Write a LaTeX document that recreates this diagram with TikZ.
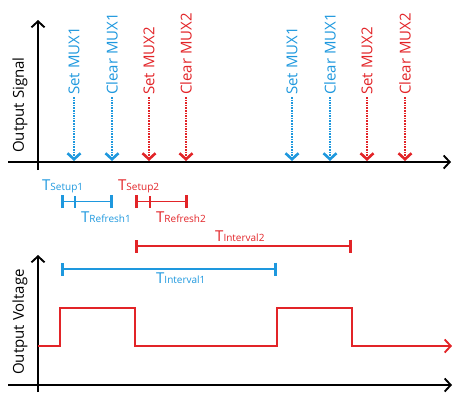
\documentclass[tikz,border=0pt]{standalone}
\usepackage{fontspec}
\setmainfont{Open Sans}
\usetikzlibrary{arrows.meta}

\definecolor{muxblue}{RGB}{30,152,222}
\definecolor{muxred}{RGB}{226,36,40}

\newcommand{\tname}[1]{{\fontsize{15}{15}\selectfont T}{\fontsize{10}{10}\selectfont #1}}

\tikzset{
  axis/.style={line width=1.3pt,-{Straight Barb[length=6pt,width=13pt,line width=1.9pt]}},
  sig/.style={rotate=90,anchor=west,inner sep=2pt,font=\fontsize{15}{15}\selectfont},
  sigarrow/.style={line width=1.2pt,dash pattern=on 1.6pt off 1pt,-{Straight Barb[length=6pt,width=13pt,line width=2.6pt]},shorten >=1pt},
  span/.style={line width=1.5pt,{Bar[width=13pt,line width=3pt]}-{Bar[width=13pt,line width=3pt]}},
  midtick/.style={line width=2.2pt},
  tlab/.style={anchor=base west,inner sep=0pt}
}

\begin{document}
\begin{tikzpicture}[x=1pt,y=-1pt]
        \useasboundingbox (0,0) rectangle (455,392);
        % output signal axes
        \coordinate (so) at (38,162);
        \draw[axis] (38,170) -- (38,20);
        \draw[axis] (8,162) -- (451,162);
        \node[rotate=90,font=\fontsize{15}{15}\selectfont] (sigax) at (20,105) {Output Signal};
        % mux commands
        \foreach \x/\txt/\col/\nm in {74/Set MUX1/muxblue/a,112/Clear MUX1/muxblue/b,149/Set MUX2/muxred/c,186/Clear MUX2/muxred/d,
                                      292/Set MUX1/muxblue/e,330/Clear MUX1/muxblue/f,367/Set MUX2/muxred/g,405/Clear MUX2/muxred/h} {
            \node[sig,text=\col] (cmd\nm) at (\x,97) {\txt};
            \draw[sigarrow,draw=\col] (cmd\nm.west) -- (cmd\nm.west |- so);
        }
        % setup / refresh times
        \coordinate (su1a) at (61,201.5);
        \coordinate (su1m) at (75,201.5);
        \coordinate (su1b) at (113,201.5);
        \draw[span,muxblue] (su1a) -- (su1b);
        \draw[midtick,muxblue] ([yshift=-6pt]su1m) -- ([yshift=6pt]su1m);
        \node[tlab,text=muxblue] (tsu1) at (42,190) {\tname{Setup1}};
        \node[tlab,text=muxblue] (trf1) at (81,222) {\tname{Refresh1}};
        \coordinate (su2a) at (135,201.5);
        \coordinate (su2m) at (150,201.5);
        \coordinate (su2b) at (188,201.5);
        \draw[span,muxred] (su2a) -- (su2b);
        \draw[midtick,muxred] ([yshift=-6pt]su2m) -- ([yshift=6pt]su2m);
        \node[tlab,text=muxred] (tsu2) at (118,190) {\tname{Setup2}};
        \node[tlab,text=muxred] (trf2) at (156,222) {\tname{Refresh2}};
        % intervals
        \coordinate (iv2a) at (135,246);
        \coordinate (iv2b) at (352,246);
        \draw[span,muxred] (iv2a) -- (iv2b);
        \node[tlab,text=muxred] (tiv2) at (215,241) {\tname{Interval2}};
        \coordinate (iv1a) at (61,269);
        \coordinate (iv1b) at (277,269);
        \draw[span,muxblue] (iv1a) -- (iv1b);
        \node[tlab,text=muxblue] (tiv1) at (156,283) {\tname{Interval1}};
        % output voltage axes
        \draw[axis] (38,392) -- (38,255);
        \draw[axis] (8,385) -- (452,385);
        \node[rotate=90,font=\fontsize{15}{15}\selectfont] (voltax) at (20,322) {Output Voltage};
        \draw[muxred,line width=1.5pt,-{Straight Barb[length=6pt,width=13pt,line width=1.9pt]}]
            (38,346) -- (60,346) -- (60,308) -- (135,308) -- (135,346) -- (277,346)
            -- (277,308) -- (352,308) -- (352,346) -- (452,346);
    \end{tikzpicture}
\end{document}
